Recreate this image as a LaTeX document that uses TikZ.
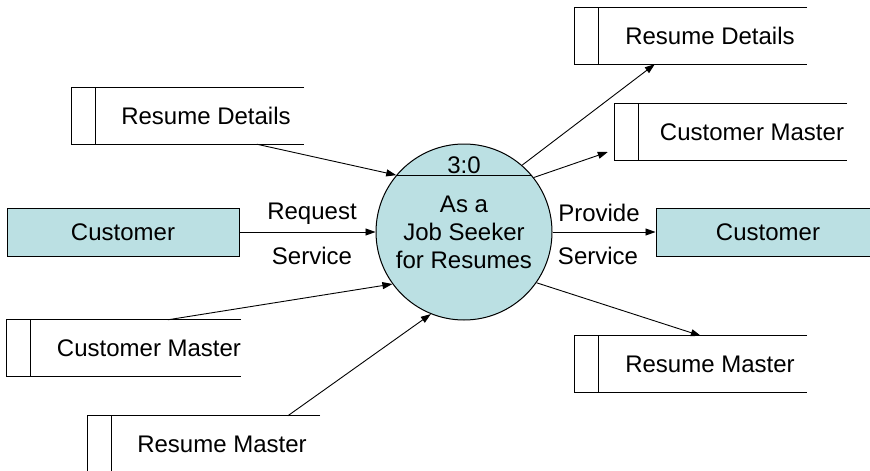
\documentclass[tikz,border=0pt]{standalone}
\usepackage{fontspec}
\setmainfont{Liberation Sans}
\usetikzlibrary{arrows.meta,calc}
\definecolor{teal0}{HTML}{BBE0E3}
\tikzset{
  every node/.style={font=\fontsize{24}{28}\selectfont},
  dstore/.style={rectangle, minimum width=208pt, minimum height=56pt, inner sep=0pt},
  entity/.style={rectangle, draw=black, line width=1pt, fill=teal0, minimum width=232pt, minimum height=48pt, inner sep=0pt},
  proc/.style={circle, draw=black, line width=1pt, fill=teal0, minimum size=176pt, inner sep=0pt, align=center},
  lbl/.style={inner sep=0pt},
  flow/.style={line width=0.9pt, -{Triangle[length=10pt,width=7pt]}},
  frame/.style={line width=1pt}
}
\begin{document}
\begin{tikzpicture}[x=1pt,y=-1pt]
\useasboundingbox (0,0) rectangle (870,471);
\clip (0,0) rectangle (870,471);
% process
\node[proc] (p) at (464,232) {As a\\Job Seeker\\for Resumes};
\node[lbl] (pid) at (464,165) {3:0};
\draw[frame] (p.140) -- (p.40);
% external entities
\node[entity] (custL) at (123,232) {Customer};
\node[entity, minimum width=224pt] (custR) at (768,232) {Customer};
% data stores
\node[dstore] (rdL) at (200,116) {\hspace*{12pt}Resume Details};
\node[dstore] (cmL) at (136,348) {\hspace*{26pt}Customer Master};
\node[dstore] (rmB) at (216,444) {\hspace*{12pt}Resume Master};
\node[dstore] (rdR) at (703,36) {\hspace*{14pt}Resume Details};
\node[dstore] (cmR) at (743,132) {\hspace*{18pt}Customer Master};
\node[dstore] (rmR) at (703,364) {\hspace*{14pt}Resume Master};
\foreach \n in {rdL,cmL,rmB,rdR,cmR,rmR}{
  \draw[frame] (\n.north east) -- ([xshift=-24pt]\n.north west) -- ([xshift=-24pt]\n.south west) -- (\n.south east)
    (\n.north west) -- (\n.south west);
}
% flow labels
\node[lbl] (req) at (312,214) {Request};
\node[lbl] (ser1) at (312,256) {Service};
\node[lbl] (prov) at (599,213) {Provide};
\node[lbl] (ser2) at (598,256) {Service};
% flows into process
\draw[flow] ([xshift=161pt]rdL.south west) -- (p.140);
\draw[flow] (custL.east) -- (p.west);
\draw[flow] ([xshift=137pt]cmL.north west) -- (p.216);
\draw[flow] ([xshift=176pt]rmB.north west) -- (p.248);
% flows out of process
\draw[flow] (p.49) -- ([xshift=56pt]rdR.south west);
\draw[flow] (p.38) -- ([xshift=-31pt,yshift=-20pt]cmR.west);
\draw[flow] (p.east) -- (custR.west);
\draw[flow] (p.325) -- ([xshift=102pt]rmR.north west);
\end{tikzpicture}
\end{document}
